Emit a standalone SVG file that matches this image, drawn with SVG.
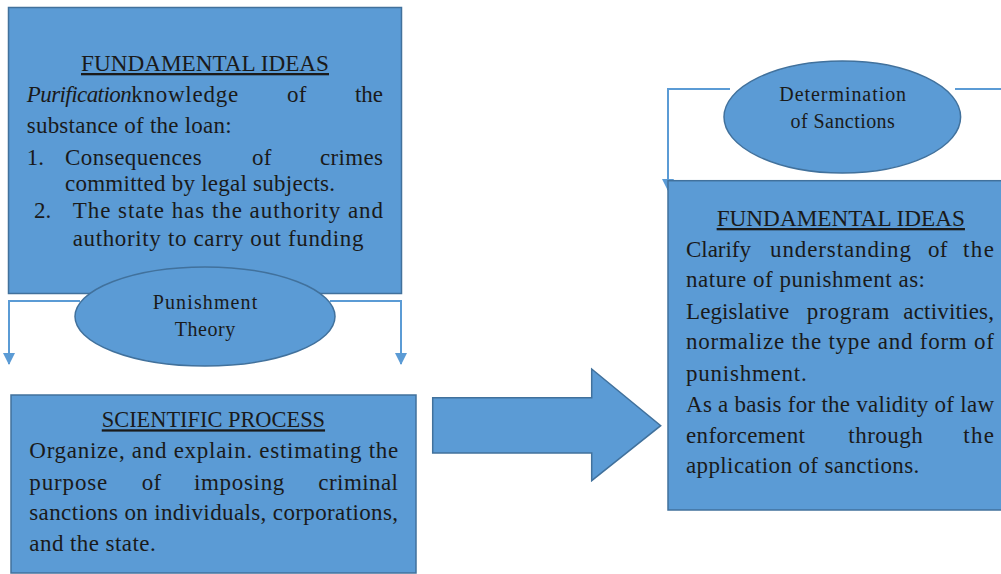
<svg xmlns="http://www.w3.org/2000/svg" width="1001" height="574" viewBox="0 0 1001 574">
<style>
.box{fill:#5b9bd5;stroke:#41719c;stroke-width:1.5}
.conn{fill:none;stroke:#5b9bd5;stroke-width:2}
.t{font-family:"Liberation Serif","Times New Roman",serif;font-size:23px;fill:#1a1a1a}
.s{font-family:"Liberation Serif","Times New Roman",serif;font-size:20px;fill:#1a1a1a}
.u{text-decoration:underline}
</style>
<defs>
<marker id="ah" markerUnits="userSpaceOnUse" markerWidth="14" markerHeight="12" refX="11" refY="6" orient="auto">
<path d="M0,0 L12,6 L0,12 Z" fill="#5b9bd5"/>
</marker>
</defs>
<rect width="1001" height="574" fill="#ffffff"/>
<g id="connectors">
<path class="conn" d="M80,301 H9 V364" marker-end="url(#ah)"/>
<path class="conn" d="M330,301 H401 V364" marker-end="url(#ah)"/>
<path class="conn" d="M730,89 H668 V190" marker-end="url(#ah)"/>
<path class="conn" d="M955,89 H1001"/>
<polygon id="big-arrow" class="box" points="432.7,397.7 591.7,397.7 591.7,369 660.7,425.7 591.7,480.7 591.7,453 432.7,453"/>
</g>
<g id="fundamental-ideas-left">
<rect class="box" x="8.5" y="7.5" width="393" height="286"/>
<text class="t u" x="205" y="71" text-anchor="middle" textLength="248" lengthAdjust="spacingAndGlyphs">FUNDAMENTAL IDEAS</text>
<text class="t" x="26.7" y="102"><tspan font-style="italic" textLength="105">Purification</tspan><tspan textLength="107">knowledge</tspan></text>
<text class="t" x="287" y="102" textLength="19.5">of</text>
<text class="t" x="383" y="102" text-anchor="end">the</text>
<text class="t" x="26.7" y="133" textLength="205">substance of the loan:</text>
<text class="t" x="26.7" y="165">1.</text>
<text class="t" x="65" y="165" textLength="136.7">Consequences</text>
<text class="t" x="252" y="165" textLength="19.5">of</text>
<text class="t" x="320" y="165" textLength="63">crimes</text>
<text class="t" x="65" y="191" textLength="270">committed by legal subjects.</text>
<text class="t" x="34" y="218">2.</text>
<text class="t" x="72.7" y="218" textLength="310.3">The state has the authority and</text>
<text class="t" x="72.7" y="246" textLength="290.7">authority to carry out funding</text>
</g>
<g id="punishment-theory">
<ellipse class="box" cx="205" cy="316.5" rx="130" ry="49.5"/>
<text class="s" x="205" y="309" text-anchor="middle" textLength="104.6">Punishment</text>
<text class="s" x="205" y="336" text-anchor="middle" textLength="60.3">Theory</text>
</g>
<g id="scientific-process">
<rect class="box" x="11" y="395" width="405" height="178"/>
<text class="t u" x="213.4" y="427.3" text-anchor="middle" textLength="223.3" lengthAdjust="spacingAndGlyphs">SCIENTIFIC PROCESS</text>
<text class="t" x="29.3" y="458.3" textLength="369">Organize, and explain. estimating the</text>
<text class="t" x="29.3" y="490" textLength="78">purpose</text>
<text class="t" x="141.7" y="490" textLength="19.5">of</text>
<text class="t" x="194" y="490" textLength="90.3">imposing</text>
<text class="t" x="318.3" y="490" textLength="79.7">criminal</text>
<text class="t" x="29.3" y="520" textLength="368.7">sanctions on individuals, corporations,</text>
<text class="t" x="29.3" y="551" textLength="126.4">and the state.</text>
</g>
<g id="fundamental-ideas-right">
<rect class="box" x="668" y="180.7" width="345" height="329.3"/>
<text class="t u" x="840.8" y="226" text-anchor="middle" textLength="248.3" lengthAdjust="spacingAndGlyphs">FUNDAMENTAL IDEAS</text>
<text class="t" x="686" y="256.7" textLength="65">Clarify</text>
<text class="t" x="770" y="256.7" textLength="141">understanding</text>
<text class="t" x="928" y="256.7" textLength="19.5">of</text>
<text class="t" x="963" y="256.7" textLength="31">the</text>
<text class="t" x="686" y="287.3" textLength="239">nature of punishment as:</text>
<text class="t" x="686" y="319" textLength="103.3">Legislative</text>
<text class="t" x="806.7" y="319" textLength="82.6">program</text>
<text class="t" x="903.3" y="319" textLength="90.7">activities,</text>
<text class="t" x="686" y="349.3" textLength="308">normalize the type and form of</text>
<text class="t" x="686" y="380.7" textLength="120.7">punishment.</text>
<text class="t" x="686" y="411.7" textLength="308">As a basis for the validity of law</text>
<text class="t" x="686" y="443.3" textLength="119">enforcement</text>
<text class="t" x="848.3" y="443.3" textLength="74.4">through</text>
<text class="t" x="963.3" y="443.3" textLength="30.7">the</text>
<text class="t" x="686" y="473.3" textLength="233.3">application of sanctions.</text>
</g>
<g id="determination-of-sanctions">
<ellipse class="box" cx="842.3" cy="117" rx="118.3" ry="56"/>
<text class="s" x="842.7" y="100.7" text-anchor="middle" textLength="126.7">Determination</text>
<text class="s" x="842.7" y="128.3" text-anchor="middle" textLength="104.3">of Sanctions</text>
</g>
</svg>
